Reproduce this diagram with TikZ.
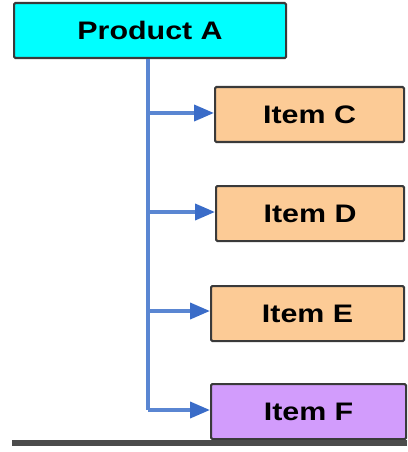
\documentclass[tikz,border=0pt]{standalone}
\usepackage{fontspec}
\setmainfont{Liberation Sans}
\usetikzlibrary{arrows.meta}
\definecolor{headcyan}{HTML}{00FFFF}
\definecolor{itempeach}{HTML}{FCCB96}
\definecolor{itemviolet}{HTML}{D29CFC}
\definecolor{linkblue}{HTML}{5A86D2}
\definecolor{tipblue}{HTML}{3A6CC8}
\definecolor{edgegray}{HTML}{3A3A3A}
\begin{document}
\begin{tikzpicture}[x=0.75pt,y=-0.75pt,
  box/.style={draw=edgegray,line width=1.6pt,rounded corners=1pt,anchor=north west,
    inner sep=0pt,font=\bfseries\fontsize{19}{22}\selectfont},
  link/.style={draw=linkblue,line width=2.8pt},
  feed/.style={link,-{Triangle[length=15pt,width=12pt,color=tipblue]}}]
\useasboundingbox (0,0) rectangle (407,452);
\fill[white] (0,0) rectangle (407,452);
% boxes
\node[box,fill=headcyan,minimum width=272*0.75pt,minimum height=55*0.75pt] (prod) at (13,2) {\scalebox{1.2}[1]{Product A}};
\node[box,fill=itempeach,minimum width=189*0.75pt,minimum height=55*0.75pt] (itc) at (214,86) {\scalebox{1.2}[1]{Item C}};
\node[box,fill=itempeach,minimum width=188*0.75pt,minimum height=55*0.75pt] (itd) at (215,185) {\scalebox{1.2}[1]{Item D}};
\node[box,fill=itempeach,minimum width=193*0.75pt,minimum height=55*0.75pt] (ite) at (210,285) {\scalebox{1.2}[1]{Item E}};
\node[box,fill=itemviolet,minimum width=195*0.75pt,minimum height=55*0.75pt] (itf) at (210,383) {\scalebox{1.2}[1]{Item F}};
% trunk and branches
\coordinate (jc) at (148,113);
\coordinate (jd) at (148,212);
\coordinate (je) at (148,311);
\coordinate (jf) at (148,410);
\draw[link] (prod.south -| jc) -- (jf);
\draw[feed] (jc) -- (itc.west |- jc);
\draw[feed] (jd) -- (itd.west |- jd);
\draw[feed] (je) -- (ite.west |- je);
\draw[feed] (jf) -- (itf.west |- jf);
% base rule
\coordinate (rl) at (12,443);
\coordinate (rr) at (407,443);
\draw[line width=5pt,color=black!70] (rl) -- (rr);
\end{tikzpicture}
\end{document}
